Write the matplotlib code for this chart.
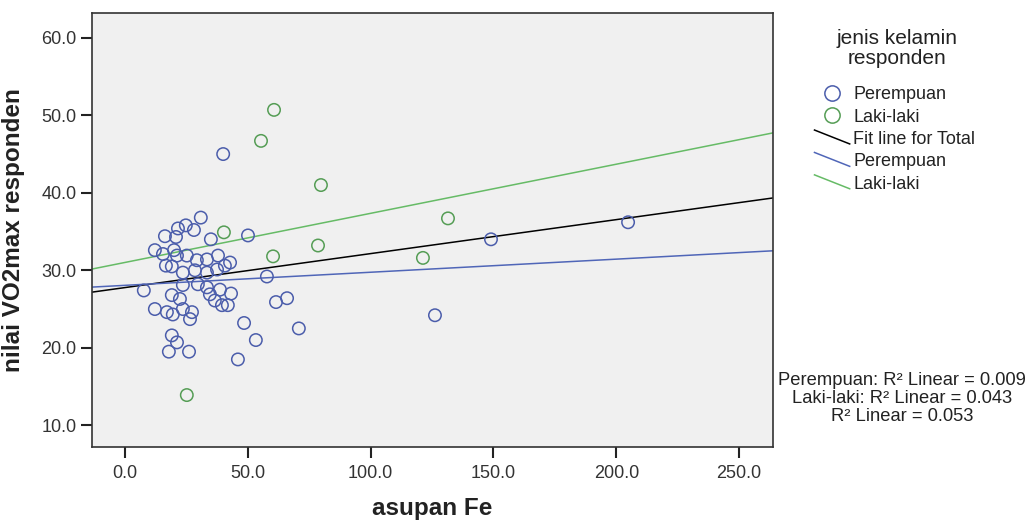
import numpy as np
import matplotlib
matplotlib.use('Agg')
import matplotlib.pyplot as plt
from matplotlib.lines import Line2D
from matplotlib.legend_handler import HandlerBase

plt.rcParams['font.family'] = ['Liberation Sans', 'DejaVu Sans']

# asupan Fe / VO2max
fe_perempuan = [40.0, 30.9, 24.8, 21.6, 28.1, 16.3, 20.8, 35.0, 50.1, 12.2,
                15.5, 20.0, 21.2, 25.2, 29.3, 33.4, 37.9, 42.8, 40.7, 16.7,
                19.1, 23.6, 28.5, 33.4, 37.5, 57.8, 7.7, 23.6, 29.7, 33.4,
                38.7, 43.2, 19.1, 22.4, 34.6, 36.6, 39.5, 41.9, 12.2, 17.1,
                19.5, 23.6, 27.3, 26.5, 61.5, 66.0, 48.5, 70.8, 53.3, 19.1,
                21.2, 17.9, 26.1, 46.0, 126.2, 149.0, 204.8]
vo2_perempuan = [45.0, 36.8, 35.8, 35.4, 35.2, 34.4, 34.3, 34.0, 34.5, 32.6,
                 32.1, 32.6, 31.9, 31.9, 31.3, 31.4, 31.9, 31.0, 30.6, 30.6,
                 30.5, 29.7, 30.0, 29.7, 30.1, 29.2, 27.4, 28.1, 28.2, 27.8,
                 27.5, 27.0, 26.8, 26.3, 26.9, 26.1, 25.5, 25.5, 25.0, 24.6,
                 24.3, 25.0, 24.6, 23.7, 25.9, 26.4, 23.2, 22.5, 21.0, 21.6,
                 20.7, 19.5, 19.5, 18.5, 24.2, 34.0, 36.2]
fe_laki = [60.7, 55.4, 79.8, 78.6, 60.3, 40.3, 131.5, 121.3, 25.2]
vo2_laki = [50.7, 46.7, 41.0, 33.2, 31.8, 34.9, 36.7, 31.6, 13.9]

legend_labels = ['Perempuan', 'Laki-laki', 'Fit line for Total', 'Perempuan', 'Laki-laki']
r2_labels = ['Perempuan: R² Linear = 0.009',
             'Laki-laki: R² Linear = 0.043',
             'R² Linear = 0.053']

x_ticks = [0, 50, 100, 150, 200, 250]
y_ticks = [10, 20, 30, 40, 50, 60]

BLUE = '#4b5dab'
GREEN = '#559d55'
BLUE_LINE = '#5066b8'
GREEN_LINE = '#66bb66'
TXT = '#222222'


class DiagHandler(HandlerBase):
    # SPSS draws fit lines in the legend as a short slanted stroke
    def create_artists(self, legend, orig_handle, xdescent, ydescent,
                       width, height, fontsize, trans):
        x0, y0 = -xdescent, -ydescent
        ln = Line2D([x0, x0 + width], [y0 + height * 1.1, y0 + height * 0.0],
                    color=orig_handle.get_color(), lw=orig_handle.get_linewidth(),
                    transform=trans)
        return [ln]


fig = plt.figure(figsize=(10.31, 5.25), dpi=100)
ax = fig.add_axes([0.0892, 0.1486, 0.6606, 0.8266])
ax.set_facecolor('#f0f0f0')

ax.scatter(fe_perempuan, vo2_perempuan, s=80, facecolors='none',
           edgecolors=BLUE, linewidths=1.1, zorder=3)
ax.scatter(fe_laki, vo2_laki, s=80, facecolors='none',
           edgecolors=GREEN, linewidths=1.1, zorder=3)

ax.set_xlim(-13.4, 263.8)
ax.set_ylim(7.2, 63.2)

xs = np.array(ax.get_xlim())
fe_all = np.array(fe_perempuan + fe_laki)
vo2_all = np.array(vo2_perempuan + vo2_laki)
for fx, fy, col in [(fe_all, vo2_all, 'black'),
                    (fe_perempuan, vo2_perempuan, BLUE_LINE),
                    (fe_laki, vo2_laki, GREEN_LINE)]:
    b, a = np.polyfit(fx, fy, 1)
    ax.plot(xs, a + b * xs, color=col, lw=1.1, zorder=2)

ax.set_xticks(x_ticks)
ax.set_yticks(y_ticks)
ax.set_xticklabels(['%.1f' % v for v in x_ticks])
ax.set_yticklabels(['%.1f' % v for v in y_ticks])
ax.tick_params(direction='out', length=8, width=1.5, color='#222222',
               labelsize=13, labelcolor='#333333', pad=3)
ax.tick_params(axis='x', pad=5)
for sp in ax.spines.values():
    sp.set_color('#333333')
    sp.set_linewidth(1.2)

ax.set_xlabel('asupan Fe', fontsize=17.5, fontweight='bold', color=TXT)
ax.set_ylabel('nilai VO2max responden', fontsize=17.5, fontweight='bold', color=TXT)
ax.xaxis.set_label_coords(0.5, -0.116)
ax.yaxis.set_label_coords(-0.098, 0.5)

h_p = Line2D([], [], ls='none', marker='o', ms=11, mfc='none', mec=BLUE, mew=1.1)
h_l = Line2D([], [], ls='none', marker='o', ms=11, mfc='none', mec=GREEN, mew=1.1)
h_t = Line2D([], [], color='black', lw=1.1)
h_bp = Line2D([], [], color=BLUE_LINE, lw=1.1)
h_bl = Line2D([], [], color=GREEN_LINE, lw=1.1)
dh = DiagHandler()
leg = fig.legend([h_p, h_l, h_t, h_bp, h_bl], legend_labels,
                 loc='upper left', bbox_to_anchor=(0.790, 0.836),
                 frameon=False, fontsize=13, handlelength=1.95,
                 handletextpad=0.2, labelspacing=0.3, borderaxespad=0,
                 borderpad=0, labelcolor=TXT,
                 handler_map={h_t: dh, h_bp: dh, h_bl: dh})

fig.text(0.870, 0.907, 'jenis kelamin\nresponden', ha='center', va='center',
         fontsize=15, color=TXT, linespacing=1.05, multialignment='center')

fig.text(0.875, 0.241, '\n'.join(r2_labels), ha='center', va='center',
         fontsize=13.2, color=TXT, linespacing=1.1)

fig.savefig('out.png', dpi=100)
